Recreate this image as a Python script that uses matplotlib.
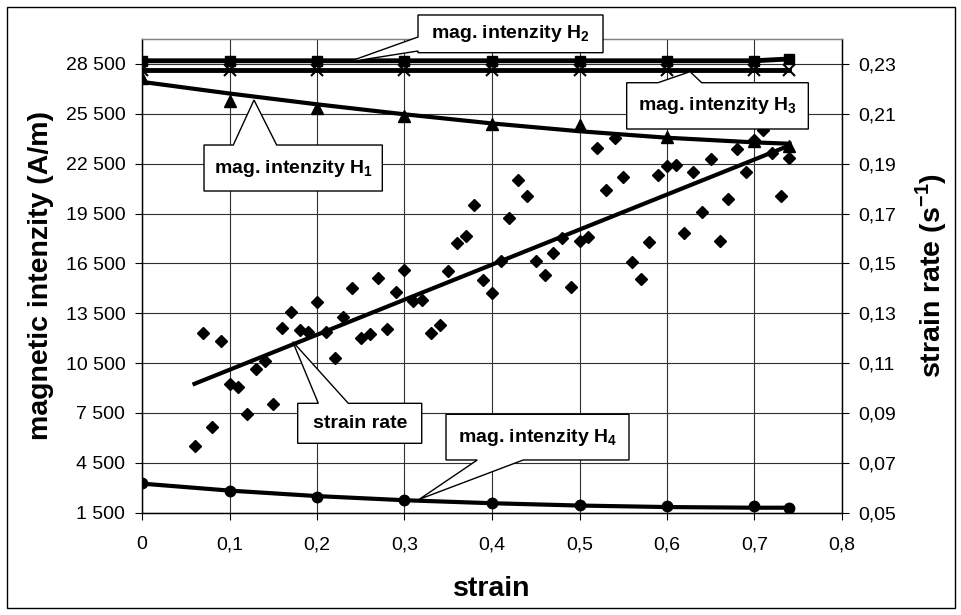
import numpy as np
import matplotlib
matplotlib.use("Agg")
import matplotlib.pyplot as plt
from matplotlib.patches import Polygon, Rectangle
from matplotlib.ticker import FixedLocator

plt.rcParams['font.family'] = ['Liberation Sans', 'DejaVu Sans']
plt.rcParams['mathtext.fontset'] = 'custom'
plt.rcParams['mathtext.rm'] = 'Liberation Sans'
plt.rcParams['mathtext.bf'] = 'Liberation Sans:bold'

# data
# ----------------------------------------------------------------------
H_STRAIN = [0, 0.1, 0.2, 0.3, 0.4, 0.5, 0.6, 0.7, 0.74]
H1 = [27660, 26250, 25850, 25370, 24870, 24800, 24100, 23890, 23590]
H1_TREND = [27420, 26720, 26070, 25470, 24920, 24450, 24060, 23780, 23700]
H2 = [28690, 28690, 28690, 28690, 28690, 28690, 28690, 28690, 28800]
H3 = [28120, 28120, 28120, 28120, 28120, 28120, 28120, 28120, 28120]
H4 = [3275, 2810, 2420, 2240, 2100, 1980, 1920, 1890, 1800]
H4_TREND = [3250, 2830, 2500, 2250, 2070, 1930, 1840, 1800, 1800]

RATE_STRAIN = [0.06, 0.07, 0.08, 0.09, 0.10, 0.11, 0.12, 0.13, 0.14, 0.15,
               0.16, 0.17, 0.18, 0.19, 0.20, 0.21, 0.22, 0.23, 0.24, 0.25,
               0.26, 0.27, 0.28, 0.29, 0.30, 0.31, 0.32, 0.33, 0.34, 0.35,
               0.36, 0.37, 0.38, 0.39, 0.40, 0.41, 0.42, 0.43, 0.44, 0.45,
               0.46, 0.47, 0.48, 0.49, 0.50, 0.51, 0.52, 0.53, 0.54, 0.55,
               0.56, 0.57, 0.58, 0.59, 0.60, 0.61, 0.62, 0.63, 0.64, 0.65,
               0.66, 0.67, 0.68, 0.69, 0.70, 0.71, 0.72, 0.73, 0.74]
RATE = [0.0766, 0.1222, 0.0842, 0.1188, 0.1015, 0.1003, 0.0897, 0.1077, 0.1110, 0.0936,
        0.1239, 0.1306, 0.1232, 0.1223, 0.1347, 0.1224, 0.1120, 0.1285, 0.1400, 0.1202,
        0.1215, 0.1443, 0.1236, 0.1385, 0.1475, 0.1351, 0.1355, 0.1222, 0.1253, 0.1471,
        0.1580, 0.1608, 0.1735, 0.1434, 0.1381, 0.1508, 0.1681, 0.1836, 0.1769, 0.1510,
        0.1453, 0.1540, 0.1600, 0.1405, 0.1589, 0.1604, 0.1961, 0.1796, 0.2004, 0.1848,
        0.1506, 0.1438, 0.1587, 0.1855, 0.1891, 0.1894, 0.1622, 0.1866, 0.1706, 0.1918,
        0.1591, 0.1757, 0.1957, 0.1866, 0.1996, 0.2036, 0.1942, 0.1770, 0.1922]
RATE_TREND_STRAIN = [0.06, 0.74]
RATE_TREND = [0.1017, 0.1973]

X_TICKS = [0, 0.1, 0.2, 0.3, 0.4, 0.5, 0.6, 0.7, 0.8]
X_LABELS = ['0', '0,1', '0,2', '0,3', '0,4', '0,5', '0,6', '0,7', '0,8']
H_TICKS = [1500, 4500, 7500, 10500, 13500, 16500, 19500, 22500, 25500, 28500]
H_LABELS = ['1 500', '4 500', '7 500', '10 500', '13 500', '16 500',
            '19 500', '22 500', '25 500', '28 500']
R_TICKS = [0.05, 0.07, 0.09, 0.11, 0.13, 0.15, 0.17, 0.19, 0.21, 0.23]
R_LABELS = ['0,05', '0,07', '0,09', '0,11', '0,13', '0,15', '0,17',
            '0,19', '0,21', '0,23']
# ----------------------------------------------------------------------

LW = 3.0
TICK_SIZE = 14
LABEL_SIZE = 20.5
NOTE_SIZE = 14


def callout(ax, text, box, side, base, tip):
    # Excel style callout: box with a wedge, all in axes fraction
    x0, y0, x1, y1 = box
    b0, b1 = base
    if side == 'top':
        verts = [(x0, y0), (x1, y0), (x1, y1), (b1, y1), tip, (b0, y1), (x0, y1)]
    elif side == 'bottom':
        verts = [(x0, y0), (b0, y0), tip, (b1, y0), (x1, y0), (x1, y1), (x0, y1)]
    else:
        verts = [(x0, y0), (x1, y0), (x1, y1), (x0, y1), (x0, b1), tip, (x0, b0)]
    poly = Polygon(verts, closed=True, transform=ax.transAxes, facecolor='white',
                   edgecolor='black', lw=1.0, clip_on=False, zorder=20)
    ax.add_patch(poly)
    ax.text((x0 + x1) / 2, (y0 + y1) / 2, text, transform=ax.transAxes,
            ha='center', va='center', fontsize=NOTE_SIZE, fontweight='bold',
            zorder=21, clip_on=False)


fig = plt.figure(figsize=(9.62, 6.15), dpi=100)
ax = fig.add_axes([142 / 962, 1 - 512.7 / 615, 700 / 962, 473.7 / 615])
ax2 = ax.twinx()

# magnetic intensity series
ax.plot(H_STRAIN, H2, color='black', lw=LW + 0.5, marker='s', ms=7, zorder=5)
ax.plot(H_STRAIN, H3, color='black', lw=LW + 0.5, marker='x', ms=8, mew=1.5, zorder=5)
ax.plot(H_STRAIN, H1_TREND, color='black', lw=LW, zorder=5)
ax.plot(H_STRAIN, H1, ls='none', color='black', marker='^', ms=8, zorder=5)
ax.plot(H_STRAIN, H4_TREND, color='black', lw=LW, zorder=5)
ax.plot(H_STRAIN, H4, ls='none', color='black', marker='o', ms=7.5, zorder=5)

# strain rate
ax2.plot(RATE_STRAIN, RATE, ls='none', color='black', marker='D', ms=6, zorder=5)
ax2.plot(RATE_TREND_STRAIN, RATE_TREND, color='black', lw=LW, zorder=6)

ax.set_xlim(0, 0.8)
ax.set_ylim(1500, 30000)
ax2.set_ylim(0.05, 0.24)

ax.xaxis.set_major_locator(FixedLocator(X_TICKS))
ax.set_xticklabels(X_LABELS)
ax.yaxis.set_major_locator(FixedLocator(H_TICKS))
ax.set_yticklabels(H_LABELS)
ax2.yaxis.set_major_locator(FixedLocator(R_TICKS))
ax2.set_yticklabels(R_LABELS)

ax.grid(True, color='#303030', lw=0.8)
ax.set_axisbelow(True)

ax.tick_params(axis='y', direction='out', length=5, width=0.8,
               labelsize=TICK_SIZE, pad=7)
ax.tick_params(axis='x', direction='out', length=5, width=0.8,
               labelsize=TICK_SIZE, pad=12)
ax2.tick_params(axis='y', direction='out', length=5, width=0.8,
                labelsize=TICK_SIZE, pad=7)

for a in (ax, ax2):
    a.spines['top'].set_color('#808080')
    a.spines['left'].set_color('black')
    a.spines['bottom'].set_color('black')
    a.spines['right'].set_color('black')
    for sp in a.spines.values():
        sp.set_linewidth(0.9)

ax.set_xlabel('strain', fontsize=LABEL_SIZE, fontweight='bold', labelpad=16)
ax.set_ylabel('magnetic intenzity (A/m)', fontsize=LABEL_SIZE, fontweight='bold', labelpad=8)
ax2.set_ylabel(r'strain rate (s$^{\mathbf{-1}}$)', fontsize=LABEL_SIZE,
               fontweight='bold', labelpad=12)

callout(ax2, r'mag. intenzity H$_{\mathbf{2}}$', (0.3943, 0.9711, 0.6586, 1.0507),
        'left', (0.9747, 1.0042), (0.2943, 0.9514))
callout(ax2, r'mag. intenzity H$_{\mathbf{3}}$', (0.6924, 0.8100, 0.9519, 0.9077),
        'top', (0.7371, 0.7996), (0.7829, 0.9310))
callout(ax2, r'mag. intenzity H$_{\mathbf{1}}$', (0.0886, 0.6791, 0.3433, 0.7762),
        'top', (0.1304, 0.1924), (0.16, 0.8712))
callout(ax2, 'strain rate', (0.2224, 0.1465, 0.3996, 0.2309),
        'top', (0.2519, 0.2947), (0.2153, 0.361))
callout(ax2, r'mag. intenzity H$_{\mathbf{4}}$', (0.4343, 0.1113, 0.6957, 0.2077),
        'bottom', (0.479, 0.5447), (0.3961, 0.0283))

# outer chart border
fig.patches.append(Rectangle((7 / 962, 7 / 615), 948 / 962, 601 / 615,
                             transform=fig.transFigure, fill=False,
                             edgecolor='black', lw=1.0))

fig.savefig('out.png', dpi=100, facecolor='white')
